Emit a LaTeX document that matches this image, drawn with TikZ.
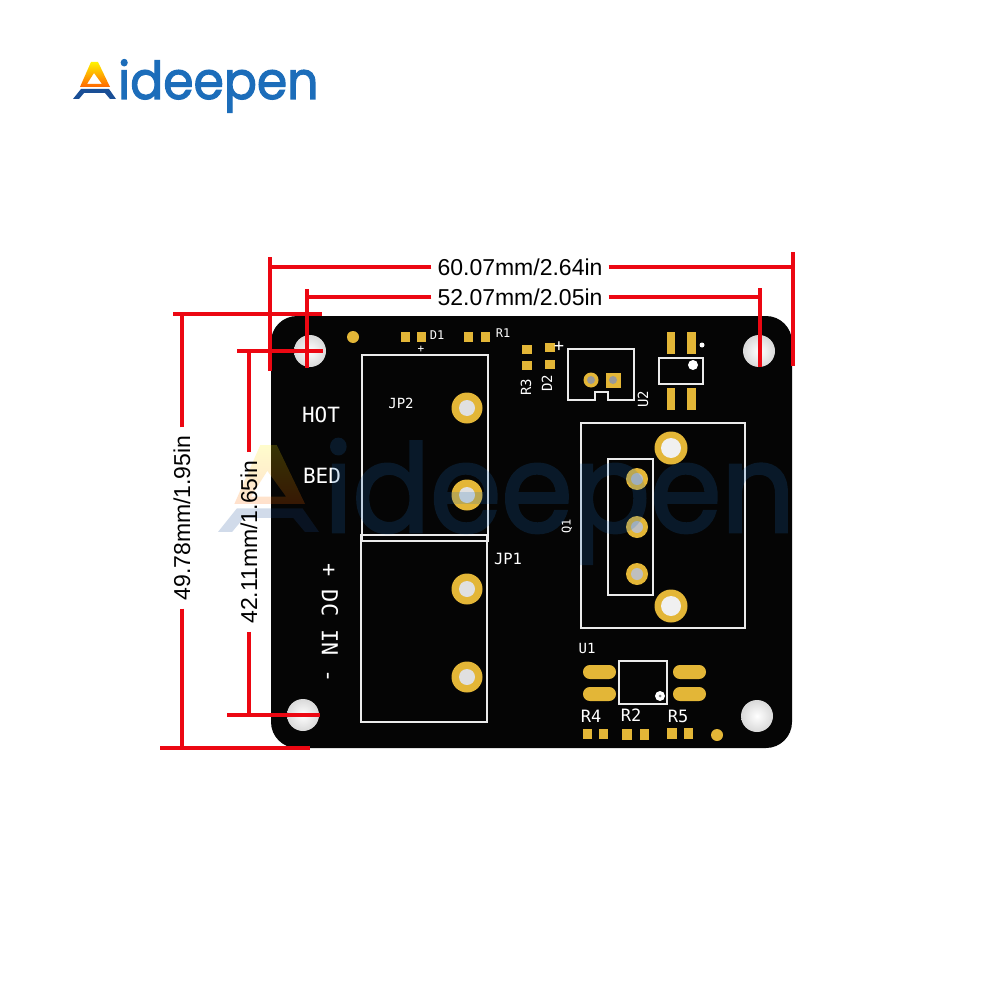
\documentclass[tikz,border=0pt]{standalone}
\usepackage{fontspec}
\setmainfont{Liberation Sans}
\newfontfamily\silkfont{DejaVu Sans Mono}
\newfontfamily\logofont[FakeBold=2.2]{Poppins}
\definecolor{gold}{HTML}{E3B637}
\definecolor{dimred}{HTML}{EC0712}
\definecolor{logoblue}{HTML}{1C6DBA}
\definecolor{logonavy}{HTML}{1A4F96}

\begin{document}
\begin{tikzpicture}[x=1pt, y=-1pt,
    silk/.style={draw=white!92!black, line width=1.5pt},
    silktext/.style={text=white, inner sep=0pt, font=\silkfont\fontsize{#1}{#1}\selectfont},
    dimtext/.style={text=black, inner sep=6pt, font=\fontsize{23}{23}\selectfont},
    dimline/.style={draw=dimred, line width=4pt},
    padsq/.style={fill=gold},
    pics/brandmark/.style={code={
      \path[even odd rule, top color=yellow!90!orange, bottom color=orange!80!red]
        (18,0) -- (25,0) -- (37,25) -- (7,25) -- cycle
        (21,11) -- (14,22) -- (29,22) -- cycle;
      \fill[logonavy] (0,37) -- (8,27) -- (36,27) -- (43,37) -- (37,37) -- (32,31) -- (11,31) -- (6,37) -- cycle;
      \node[anchor=base west, inner sep=0pt, text=logoblue, xscale=0.94, transform shape,
        font=\logofont\fontsize{52}{52}\selectfont] (#1) at (45,37) {ideepen};
    }}]
  \useasboundingbox (0,0) rectangle (1000,1000);
  \fill[white] (0,0) rectangle (1000,1000);

  \pic at (73,62) {brandmark=logoTop};

  % board
  \fill[black!98!white, rounded corners=26pt] (271,316) rectangle (792,748);
  \foreach \hx/\hy in {310/351, 759/351, 303/715, 757/716}
    \shade[inner color=white, outer color=black!15] (\hx,\hy) circle[radius=16];

  % gold pads
  \foreach \px/\py in {467/408, 467/495, 467/589, 467/677}{
    \fill[gold] (\px,\py) circle[radius=15.5];
    \fill[white!88!black] (\px,\py) circle[radius=8];
  }
  \foreach \px/\py in {671/448, 671/606}{
    \fill[gold] (\px,\py) circle[radius=16.5];
    \fill[white!94!black] (\px,\py) circle[radius=10];
  }
  \foreach \px/\py in {637/479, 637/527, 637/574}{
    \fill[gold] (\px,\py) circle[radius=11];
    \fill[black!25] (\px,\py) circle[radius=6];
  }
  \foreach \px/\py in {353/337, 717/735}
    \fill[gold] (\px,\py) circle[radius=6];
  \foreach \ax/\ay/\bx/\by in {401/332/410/342, 417/332/426/342, 464/332/473/342, 481/332/490/342,
      522/345/532/354, 522/361/532/370, 545/343/555/352, 545/360/555/369,
      667/332/675/354, 687/332/696/354, 667/388/675/410, 687/388/696/410,
      583/729/592/739, 599/729/608/739, 622/729/632/740, 640/729/649/740,
      667/728/677/739, 684/728/693/739}
    \fill[padsq] (\ax,\ay) rectangle (\bx,\by);
  \foreach \ax/\ay/\bx/\by in {583/665/616/679, 583/687/616/701, 673/665/706/679, 673/687/706/701}
    \fill[gold, rounded corners=6.9pt] (\ax,\ay) rectangle (\bx,\by);
  \fill[gold] (591,380) circle[radius=7.5];
  \fill[black!40] (591,380) circle[radius=4];
  \fill[gold] (605.5,372.5) rectangle (620.5,387.5);
  \fill[black!40] (613,380) circle[radius=4];

  % silkscreen
  \draw[silk] (362,355) rectangle (488,541);
  \draw[silk] (361,535) rectangle (487,722);
  \draw[silk] (581,423) rectangle (745,628);
  \draw[silk] (608,459) rectangle (653,595);
  \draw[silk] (568,349) -- (634,349) -- (634,400) -- (608,400) -- (608,392) -- (595,392) -- (595,400) -- (568,400) -- cycle;
  \draw[silk] (659,358) rectangle (703,384);
  \draw[silk] (619,661) rectangle (667,704);
  \fill[white] (693,365) circle[radius=5];
  \fill[white] (702,345) circle[radius=2.5];
  \fill[white] (660,696) circle[radius=5];
  \fill[black!50] (660,696) circle[radius=1.5];

  \node[silktext=21] (hotText) at (321,415) {HOT};
  \node[silktext=21] (bedText) at (322,476) {BED};
  \node[silktext=22, rotate=-90] (dcText) at (330,623) {+ DC IN -};
  \node[silktext=14] (jp2Text) at (401,403) {JP2};
  \node[silktext=15.5] (jp1Text) at (508,559) {JP1};
  \node[silktext=12] (d1Text) at (437,335) {D1};
  \node[silktext=12] (r1Text) at (503,333) {R1};
  \node[silktext=11] (plusD) at (421,349) {+};
  \node[silktext=17] (plusT) at (559,347) {+};
  \node[silktext=14, rotate=90] (r3Text) at (526,387) {R3};
  \node[silktext=14, rotate=90] (d2Text) at (547,383) {D2};
  \node[silktext=14, rotate=90] (u2Text) at (643,399) {U2};
  \node[silktext=12, rotate=90] (q1Text) at (567,526) {Q1};
  \node[silktext=14] (u1Text) at (587,648) {U1};
  \node[silktext=17] (r4Text) at (591,716) {R4};
  \node[silktext=17] (r2Text) at (631,715) {R2};
  \node[silktext=17] (r5Text) at (678,716) {R5};

  \begin{scope}[opacity=0.2, transparency group]
    \pic[scale=2.35] at (218,445) {brandmark=logoBack};
  \end{scope}

  % dimensions
  \node[dimtext] (topOuter) at (520,267) {60.07mm/2.64in};
  \node[dimtext] (topInner) at (520,297) {52.07mm/2.05in};
  \node[dimtext, inner sep=8pt, rotate=90] (sideOuter) at (182,518) {49.78mm/1.95in};
  \node[dimtext, inner sep=8pt, rotate=90] (sideInner) at (249,542) {42.11mm/1.65in};

  \coordinate (outerL) at (270,267);
  \coordinate (outerR) at (793,267);
  \coordinate (innerL) at (307,297);
  \coordinate (innerR) at (760,297);
  \coordinate (sideT) at (182,314);
  \coordinate (sideB) at (182,748);
  \coordinate (shortT) at (249,351);
  \coordinate (shortB) at (249,715);

  \draw[dimline] (topOuter) -- (outerL) (topOuter) -- (outerR);
  \draw[dimline] (topInner) -- (innerL) (topInner) -- (innerR);
  \draw[dimline] (sideOuter) -- (sideT) (sideOuter) -- (sideB);
  \draw[dimline] (sideInner) -- (shortT) (sideInner) -- (shortB);

  \draw[dimline] (270,257) -- (outerL) -- (270,371);
  \draw[dimline] (793,252) -- (outerR) -- (793,366);
  \draw[dimline] (307,289) -- (innerL) -- (307,368);
  \draw[dimline] (760,288) -- (innerR) -- (760,367);
  \draw[dimline] (173,314) -- (sideT) -- (322,314);
  \draw[dimline] (160,748) -- (sideB) -- (310,748);
  \draw[dimline] (237,351) -- (shortT) -- (323,351);
  \draw[dimline] (227,715) -- (shortB) -- (320,715);
\end{tikzpicture}
\end{document}
